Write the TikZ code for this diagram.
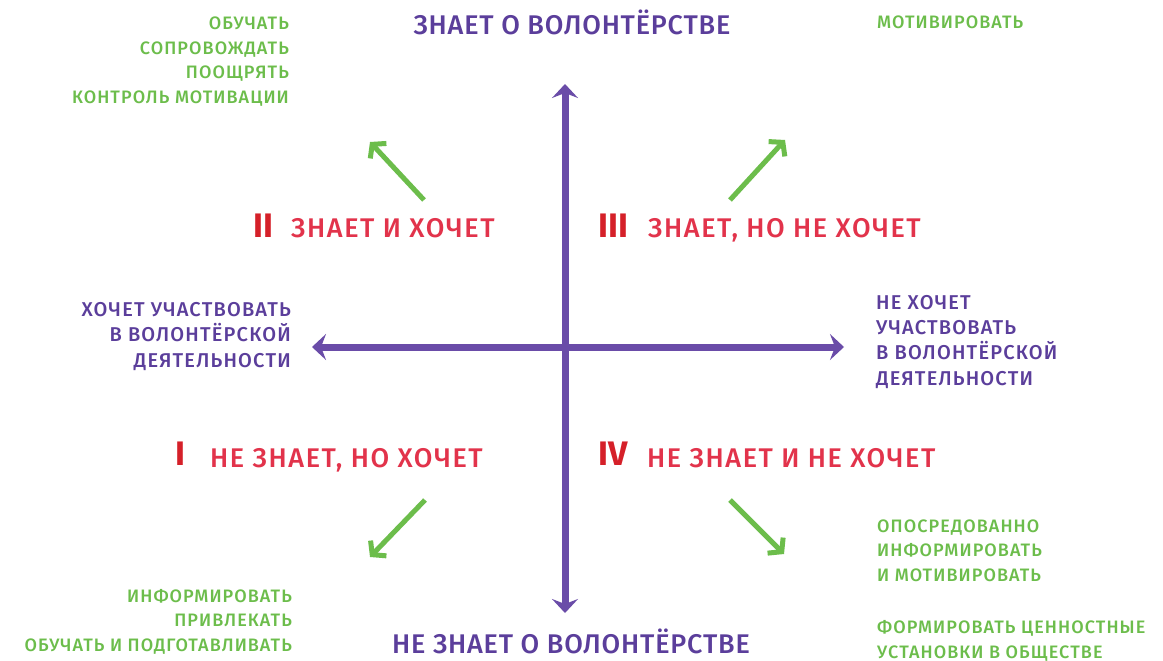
\documentclass[tikz,border=0pt]{standalone}
\usepackage{fontspec}
\setmainfont{Fira Sans}
\newfontfamily\fm[LetterSpace=6]{Fira Sans Medium}
\newfontfamily\fmt[LetterSpace=3]{Fira Sans Medium}
\newfontfamily\fb{Fira Sans Bold}
\usetikzlibrary{arrows.meta}
\definecolor{vpurple}{HTML}{5B3E9B}
\definecolor{vaxis}{HTML}{6A4CA8}
\definecolor{vgreen}{HTML}{6CBD4B}
\definecolor{vred}{HTML}{E2334B}
\definecolor{vnum}{HTML}{D52029}
\tikzset{
  greentxt/.style={text=vgreen, font=\fm\fontsize{18}{24.7}\selectfont, inner sep=0pt},
  purptxt/.style={text=vpurple, font=\fm\fontsize{20}{25.2}\selectfont, inner sep=0pt},
  titletxt/.style={text=vpurple, font=\fmt\fontsize{27}{30}\selectfont, inner sep=0pt},
  labeltxt/.style={text=vred, font=\fm\fontsize{27}{30}\selectfont, inner sep=0pt},
  numtxt/.style={text=vnum, font=\fb\fontsize{34}{36}\selectfont, inner sep=0pt},
  axisline/.style={draw=vaxis, line width=7pt, {Stealth[length=14pt,width=26pt,inset=5pt]}-{Stealth[length=14pt,width=26pt,inset=5pt]}},
  hint/.style={draw=vgreen, line width=5pt, -{Straight Barb[length=9pt,width=22pt]}}
}
\begin{document}
\begin{tikzpicture}[x=1pt,y=-1pt]
\useasboundingbox[fill=white] (0,0) rectangle (1163,661);
% axes
\coordinate (vtop) at (565,84);
\coordinate (vbot) at (565,613);
\coordinate (hleft) at (312,347);
\coordinate (hright) at (844,347);
\draw[axisline] (vbot) -- (vtop);
\draw[axisline] (hleft) -- (hright);
% green hint arrows
\coordinate (a2s) at (424,200); \coordinate (a2e) at (370,142);
\coordinate (a3s) at (730,200); \coordinate (a3e) at (785,140);
\coordinate (a1s) at (425,500); \coordinate (a1e) at (370,557);
\coordinate (a4s) at (730,500); \coordinate (a4e) at (784,554);
\draw[hint] (a2s) -- (a2e);
\draw[hint] (a3s) -- (a3e);
\draw[hint] (a1s) -- (a1e);
\draw[hint] (a4s) -- (a4e);
% titles
\node[titletxt, anchor=base] (top) at (572,35) {ЗНАЕТ О ВОЛОНТЁРСТВЕ};
\node[titletxt, anchor=base] (bottom) at (571,653) {НЕ ЗНАЕТ О ВОЛОНТЁРСТВЕ};
% side texts (base anchor = last line)
\node[greentxt, anchor=base east, align=right] (tl) at (289,103.5) {ОБУЧАТЬ\\СОПРОВОЖДАТЬ\\ПООЩРЯТЬ\\КОНТРОЛЬ МОТИВАЦИИ};
\node[greentxt, anchor=base west] (tr) at (877,29) {МОТИВИРОВАТЬ};
\node[purptxt, anchor=base east, align=right] (left) at (291,367) {ХОЧЕТ УЧАСТВОВАТЬ\\В ВОЛОНТЁРСКОЙ\\ДЕЯТЕЛЬНОСТИ};
\node[purptxt, anchor=base west, align=left] (right) at (876,385) {НЕ ХОЧЕТ\\УЧАСТВОВАТЬ\\В ВОЛОНТЁРСКОЙ\\ДЕЯТЕЛЬНОСТИ};
\node[greentxt, anchor=base west, align=left] (br1) at (877,581.5) {ОПОСРЕДОВАННО\\ИНФОРМИРОВАТЬ\\И МОТИВИРОВАТЬ};
\node[greentxt, anchor=base west, align=left] (br2) at (877,658) {ФОРМИРОВАТЬ ЦЕННОСТНЫЕ\\УСТАНОВКИ В ОБЩЕСТВЕ};
\node[greentxt, anchor=base east, align=right] (bl) at (292,651.5) {ИНФОРМИРОВАТЬ\\ПРИВЛЕКАТЬ\\ОБУЧАТЬ И ПОДГОТАВЛИВАТЬ};
% quadrant labels
\node[numtxt, anchor=base east] (n2) at (274,237) {II};
\node[labeltxt, anchor=base west] (q2) at (291,237) {ЗНАЕТ И ХОЧЕТ};
\node[numtxt, anchor=base west] (n3) at (598,237) {III};
\node[labeltxt, anchor=base west] (q3) at (648,237) {ЗНАЕТ, НО НЕ ХОЧЕТ};
\node[numtxt, anchor=base east] (n1) at (186,465) {I};
\node[labeltxt, anchor=base west] (q1) at (210,467) {НЕ ЗНАЕТ, НО ХОЧЕТ};
\node[numtxt, anchor=base west] (n4) at (598,465) {IV};
\node[labeltxt, anchor=base west] (q4) at (647,467) {НЕ ЗНАЕТ И НЕ ХОЧЕТ};
\end{tikzpicture}
\end{document}
